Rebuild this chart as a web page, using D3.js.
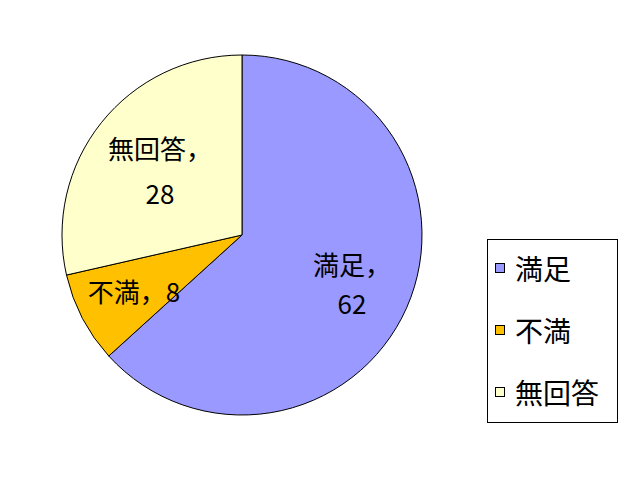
<!DOCTYPE html>
<html><head><meta charset="utf-8">
<script src="https://cdn.jsdelivr.net/npm/d3@7"></script>
<style>body{margin:0;background:#fff}svg{display:block}</style>
</head><body>
<script>
const categories = ["満足", "不満", "無回答"];
const values = [62, 8, 28];
const colors = ["#9999FF", "#FFC000", "#FFFFCC"];

const W = 640, H = 480;
const svg = d3.select("body").append("svg").attr("width", W).attr("height", H);
const font = "'Noto Sans CJK JP', sans-serif";
const cx = 242, cy = 235, r = 180;

const data = categories.map((c, i) => ({ name: c, value: values[i], color: colors[i] }));
const pie = d3.pie().value(d => d.value).sort(null);
const arcs = pie(data);
const arc = d3.arc().innerRadius(0).outerRadius(r);

const g = svg.append("g").attr("transform", `translate(${cx},${cy})`);
g.selectAll("path").data(arcs).enter().append("path")
  .attr("d", arc).attr("fill", d => d.data.color)
  .attr("stroke", "#000").attr("stroke-width", 1);

// labels
const labelPos = [
  { x: 352, y: [263, 302] },
  { x: 134, y: [290] },
  { x: 160, y: [147, 192] }
];
arcs.forEach((a, i) => {
  const lp = labelPos[i];
  const texts = i === 1 ? [a.data.name + "，" + a.data.value] : [a.data.name + "，", String(a.data.value)];
  texts.forEach((t, j) => {
    svg.append("text").attr("x", lp.x).attr("y", lp.y[j])
      .attr("text-anchor", "middle").attr("dominant-baseline", "central")
      .attr("font-family", font).attr("font-size", 26).attr("fill", "#000").text(t);
  });
});

// legend
const lg = svg.append("g");
lg.append("rect").attr("x", 487.5).attr("y", 239.5).attr("width", 130).attr("height", 183)
  .attr("fill", "#fff").attr("stroke", "#000").attr("stroke-width", 1);
const ly = d3.scalePoint().domain(categories).range([268, 392]);
categories.forEach((c, i) => {
  lg.append("rect").attr("x", 495.5).attr("y", ly(c) - 4.5).attr("width", 9).attr("height", 9)
    .attr("fill", colors[i]).attr("stroke", "#000").attr("stroke-width", 1);
  lg.append("text").attr("x", 515).attr("y", ly(c)).attr("dominant-baseline", "central")
    .attr("font-family", font).attr("font-size", 28).attr("fill", "#000").text(c);
});
</script>
</body></html>
